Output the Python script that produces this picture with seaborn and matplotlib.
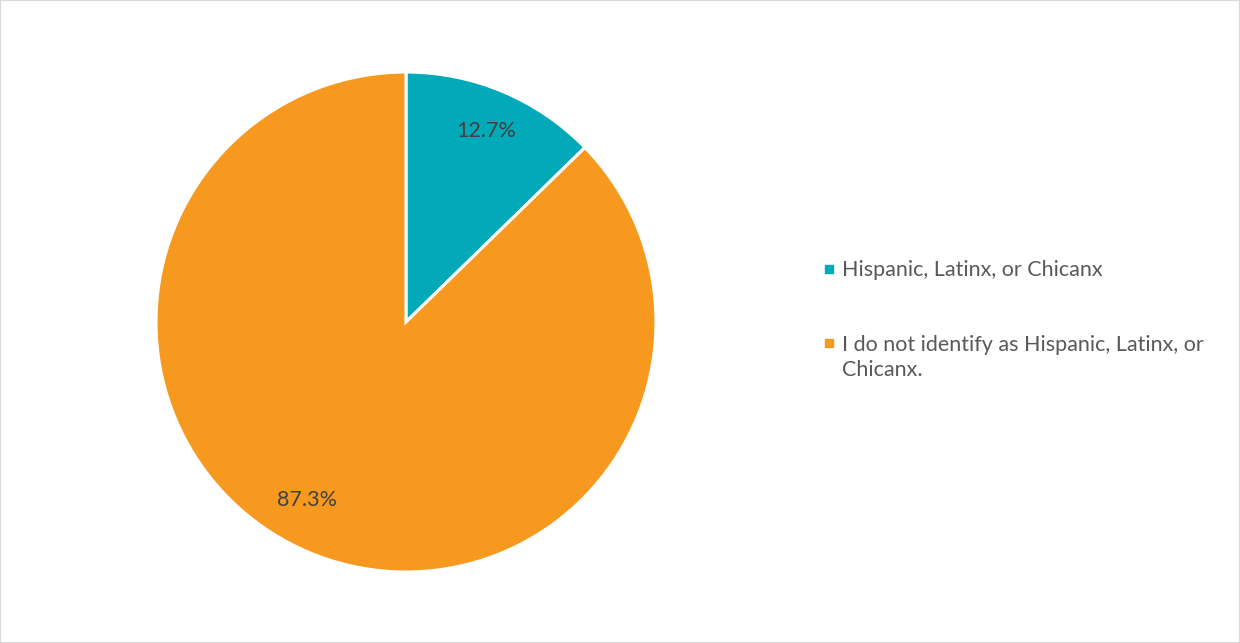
import matplotlib
matplotlib.use("Agg")
import matplotlib.pyplot as plt
import seaborn as sns
from matplotlib.patches import Rectangle
from matplotlib.lines import Line2D

# data
categories = ["Hispanic, Latinx, or Chicanx",
              "I do not identify as Hispanic, Latinx, or Chicanx."]
shares = [12.7, 87.3]
colors = ["#02A9B8", "#F7991F"]

sns.set_theme(style="white")
plt.rcParams["font.family"] = ["Lato", "DejaVu Sans"]
FS = 15.5

fig = plt.figure(figsize=(12.4, 6.43), dpi=100)
ax = fig.add_axes([0.1258, 0.1104, 0.4032, 0.7776])

wedges, texts, autotexts = ax.pie(
    shares, colors=colors, startangle=90, counterclock=False,
    autopct="%.1f%%", pctdistance=0.83, radius=1,
    wedgeprops=dict(edgecolor="white", linewidth=2.2),
    textprops=dict(color="#404040", fontsize=FS),
)
# Excel nudges the big slice's label a bit further round
autotexts[1].set_position((-0.396, -0.712))
ax.set_xlim(-1, 1)
ax.set_ylim(-1, 1)
ax.set_aspect("equal")
ax.axis("off")

# legend: second label wraps, with the marker on the first line
label2_first, label2_rest = "I do not identify as Hispanic, Latinx, or", "Chicanx."
handles = [Line2D([0], [0], marker="s", linestyle="", markersize=6,
                  markerfacecolor=c, markeredgecolor=c) for c in colors]
leg = fig.legend(handles, [categories[0], label2_first], loc="upper left",
                 bbox_to_anchor=(0.6467, 0.625), frameon=False,
                 fontsize=FS, labelcolor="#595959", handlelength=0.7,
                 handletextpad=0.25, labelspacing=2.52)

fig.canvas.draw()
bb = leg.get_texts()[1].get_window_extent().transformed(fig.transFigure.inverted())
fig.text(bb.x0, bb.y0 - 0.0075, label2_rest, ha="left", va="top",
         fontsize=FS, color="#595959")

fig.patches.append(Rectangle((0, 0), 1, 1, transform=fig.transFigure,
                             fill=False, edgecolor="#D9D9D9", linewidth=1.5))

fig.savefig("out.png", dpi=100)
